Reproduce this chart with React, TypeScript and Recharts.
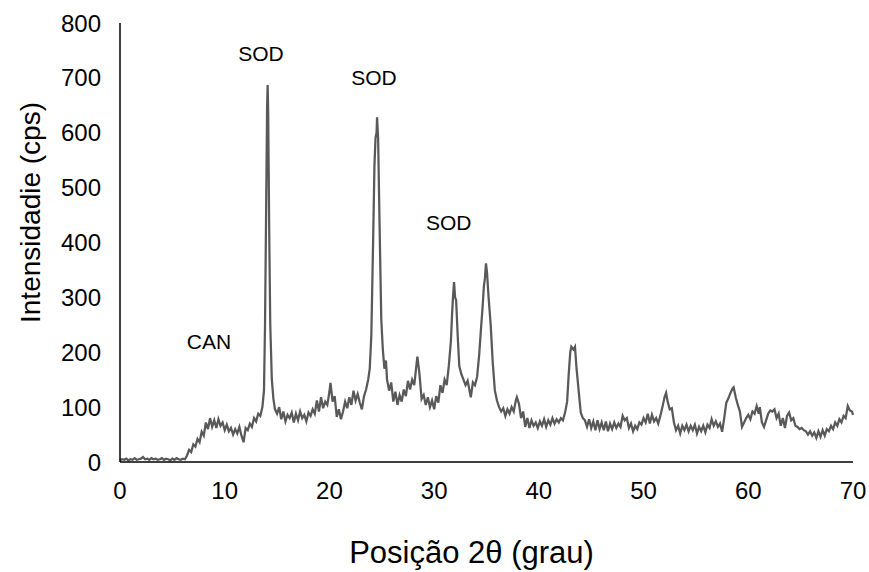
import React from 'react';
import { LineChart, Line, XAxis, YAxis, ReferenceDot, Label } from 'recharts';

// Diffraction pattern segments: [2θ (deg), intensity (cps)]
const baseline: [number, number][] = [
  [0, 3], [0.2, 5], [0.4, 4], [0.6, 6], [0.8, 3], [1.0, 5], [1.2, 4], [1.4, 7], [1.6, 4], [1.8, 5],
  [2.0, 6], [2.2, 9], [2.4, 5], [2.6, 6], [2.8, 4], [3.0, 7], [3.2, 5], [3.4, 6], [3.6, 4], [3.8, 5],
  [4.0, 7], [4.2, 4], [4.4, 6], [4.6, 5], [4.8, 3], [5.0, 6], [5.2, 4], [5.4, 7], [5.6, 5], [5.8, 4],
  [6.0, 6], [6.2, 5],
];

const canRegion: [number, number][] = [
  [6.4, 12], [6.6, 22], [6.8, 18], [7.0, 32], [7.2, 28], [7.4, 42], [7.6, 36], [7.8, 55], [8.0, 48],
  [8.2, 72], [8.4, 60], [8.6, 80], [8.8, 64], [9.0, 76], [9.2, 62], [9.4, 78], [9.6, 66], [9.8, 72],
  [10.0, 58], [10.2, 68], [10.4, 56], [10.6, 62], [10.8, 50], [11.0, 60], [11.2, 52], [11.4, 64],
  [11.6, 48], [11.8, 36], [12.0, 62], [12.2, 58], [12.4, 70], [12.6, 64], [12.8, 80], [13.0, 74],
  [13.2, 88], [13.4, 84], [13.6, 100],
];

const sodPeak1: [number, number][] = [
  [13.75, 130], [13.85, 250], [13.95, 450], [14.05, 650], [14.1, 687], [14.15, 640], [14.25, 420],
  [14.35, 250], [14.5, 150], [14.65, 115], [14.8, 96],
];

const midRegion: [number, number][] = [
  [15.0, 88], [15.2, 100], [15.4, 78], [15.6, 92], [15.8, 74], [16.0, 86], [16.2, 80], [16.4, 90],
  [16.6, 72], [16.8, 88], [17.0, 76], [17.2, 92], [17.4, 80], [17.6, 86], [17.8, 74], [18.0, 90],
  [18.2, 84], [18.4, 96], [18.6, 88], [18.8, 112], [19.0, 92], [19.2, 118], [19.4, 98], [19.6, 110],
  [19.8, 104], [20.0, 128], [20.1, 144], [20.3, 110], [20.5, 120], [20.7, 82], [20.9, 96], [21.1, 78],
  [21.3, 92], [21.5, 110], [21.7, 98], [21.9, 118], [22.1, 104], [22.3, 130], [22.5, 112], [22.7, 124],
  [22.9, 108], [23.1, 96], [23.3, 120], [23.5, 132], [23.7, 150], [23.85, 170],
];

const sodPeak2: [number, number][] = [
  [24.0, 230], [24.15, 380], [24.3, 540], [24.4, 590], [24.5, 600], [24.55, 628], [24.65, 590],
  [24.8, 420], [24.95, 260], [25.1, 205], [25.25, 170], [25.4, 185], [25.5, 150],
];

const region26to31: [number, number][] = [
  [25.7, 130], [25.9, 145], [26.1, 110], [26.3, 128], [26.5, 104], [26.7, 122], [26.9, 110],
  [27.1, 132], [27.3, 120], [27.5, 148], [27.7, 132], [27.9, 150], [28.1, 140], [28.3, 175],
  [28.4, 192], [28.6, 160], [28.8, 115], [29.0, 122], [29.2, 104], [29.4, 118], [29.6, 100],
  [29.8, 112], [30.0, 96], [30.2, 120], [30.4, 108], [30.6, 140], [30.8, 126], [31.0, 150],
  [31.2, 140], [31.4, 175],
];

const sodPeak3: [number, number][] = [
  [31.6, 220], [31.7, 265], [31.8, 300], [31.9, 328], [32.0, 300], [32.1, 295], [32.25, 230],
  [32.4, 175], [32.6, 160], [32.8, 150], [33.0, 140], [33.2, 148], [33.4, 128], [33.5, 118],
  [33.7, 145], [33.9, 140], [34.1, 155], [34.3, 195], [34.5, 250], [34.6, 275], [34.75, 320],
  [34.85, 335], [34.95, 362], [35.05, 345], [35.2, 300], [35.4, 250], [35.6, 180], [35.8, 130],
];

const region36to45: [number, number][] = [
  [36.0, 112], [36.2, 100], [36.4, 92], [36.6, 98], [36.8, 84], [37.0, 96], [37.2, 88], [37.4, 100],
  [37.6, 92], [37.8, 112], [37.9, 118], [38.1, 106], [38.3, 80], [38.5, 92], [38.7, 64], [38.9, 80],
  [39.1, 62], [39.3, 76], [39.5, 66], [39.7, 72], [39.9, 62], [40.1, 74], [40.3, 66], [40.5, 78],
  [40.7, 64], [40.9, 76], [41.1, 68], [41.3, 80], [41.5, 70], [41.7, 78], [41.9, 72], [42.1, 80],
  [42.3, 76], [42.5, 90], [42.7, 110], [42.85, 160], [43.0, 200], [43.1, 210], [43.3, 205],
  [43.45, 210], [43.6, 170], [43.8, 130], [44.0, 90], [44.2, 80], [44.4, 76], [44.6, 64], [44.8, 78],
];

const region45to58: [number, number][] = [
  [45.0, 62], [45.2, 74], [45.4, 58], [45.6, 76], [45.8, 60], [46.0, 72], [46.2, 58], [46.4, 74],
  [46.6, 56], [46.8, 70], [47.0, 60], [47.2, 72], [47.4, 62], [47.6, 70], [47.8, 64], [48.0, 84],
  [48.2, 76], [48.4, 80], [48.6, 62], [48.8, 70], [49.0, 56], [49.2, 66], [49.4, 60], [49.6, 72],
  [49.8, 68], [50.0, 80], [50.2, 72], [50.4, 88], [50.6, 70], [50.8, 86], [51.0, 74], [51.2, 80],
  [51.4, 70], [51.6, 84], [51.8, 100], [52.0, 118], [52.15, 126], [52.3, 110], [52.5, 96],
  [52.7, 98], [52.9, 72], [53.1, 58], [53.3, 66], [53.5, 52], [53.7, 66], [53.9, 58], [54.1, 68],
  [54.3, 56], [54.5, 66], [54.7, 58], [54.9, 68], [55.1, 52], [55.3, 64], [55.5, 56], [55.7, 66],
  [55.9, 54], [56.1, 68], [56.3, 62], [56.5, 78], [56.7, 66], [56.9, 74], [57.1, 64], [57.3, 70],
  [57.5, 55], [57.7, 80],
];

const region58to70: [number, number][] = [
  [57.9, 108], [58.1, 116], [58.3, 126], [58.5, 134], [58.6, 136], [58.8, 118], [59.0, 104],
  [59.2, 92], [59.4, 64], [59.6, 72], [59.8, 80], [60.0, 86], [60.2, 78], [60.4, 92], [60.6, 88],
  [60.8, 102], [61.0, 88], [61.1, 100], [61.3, 72], [61.5, 64], [61.7, 76], [61.9, 88], [62.1, 94],
  [62.3, 92], [62.5, 96], [62.7, 80], [62.9, 88], [63.1, 66], [63.3, 80], [63.5, 62], [63.7, 84],
  [63.9, 90], [64.1, 76], [64.3, 80], [64.5, 66], [64.7, 64], [64.9, 60], [65.1, 62], [65.3, 58],
  [65.5, 56], [65.7, 50], [65.9, 56], [66.1, 48], [66.3, 54], [66.5, 44], [66.7, 56], [66.9, 46],
  [67.1, 58], [67.3, 48], [67.5, 60], [67.7, 56], [67.9, 66], [68.1, 60], [68.3, 72], [68.5, 66],
  [68.7, 78], [68.9, 72], [69.1, 84], [69.3, 80], [69.5, 102], [69.7, 94], [69.9, 92], [70.0, 86],
];

const xTicks = [0, 10, 20, 30, 40, 50, 60, 70];
const yTicks = [0, 100, 200, 300, 400, 500, 600, 700, 800];

const annotations = [
  { text: 'CAN', x: 8.5, y: 220 },
  { text: 'SOD', x: 13.47, y: 745 },
  { text: 'SOD', x: 24.26, y: 700 },
  { text: 'SOD', x: 31.4, y: 437 },
];

const data = [
  ...baseline, ...canRegion, ...sodPeak1, ...midRegion, ...sodPeak2,
  ...region26to31, ...sodPeak3, ...region36to45, ...region45to58, ...region58to70,
].map(([angle, intensity]) => ({ angle, intensity }));

const FONT = '"Liberation Sans", Arial, sans-serif';

const YTitle = (props: any) => {
  const vb = props.viewBox || {};
  const cx = 30;
  const cy = vb.y + vb.height / 2 - 30;
  return (
    <text
      x={cx}
      y={cy}
      transform={`rotate(-90, ${cx}, ${cy})`}
      textAnchor="middle"
      dominantBaseline="central"
      fontFamily={FONT}
      fontSize={28}
      fill="#000"
    >
      Intensidadie (cps)
    </text>
  );
};

const XTitle = (props: any) => {
  const vb = props.viewBox || {};
  const cx = vb.x + vb.width / 2 - 15;
  const cy = 552;
  return (
    <text x={cx} y={cy} textAnchor="middle" dominantBaseline="central" fontFamily={FONT} fontSize={31} fill="#000">
      Posição 2θ (grau)
    </text>
  );
};

export default function App() {
  return (
    <div style={{ position: 'absolute', top: 0, left: 0, width: 869, height: 572, background: '#fff' }}>
      <LineChart
        width={869}
        height={572}
        data={data}
        margin={{ top: 23, right: 16, bottom: 60, left: 0 }}
      >
        <XAxis
          dataKey="angle"
          type="number"
          domain={[0, 70]}
          ticks={xTicks}
          interval={0}
          height={50}
          tickLine={false}
          tickSize={0}
          tickMargin={20}
          axisLine={{ stroke: '#000', strokeWidth: 1.5 }}
          tick={{ fontFamily: FONT, fontSize: 24, fill: '#000' }}
        >
          <Label content={XTitle} />
        </XAxis>
        <YAxis
          type="number"
          domain={[0, 800]}
          ticks={yTicks}
          interval={0}
          width={120}
          tickLine={false}
          tickSize={0}
          tickMargin={19}
          axisLine={{ stroke: '#000', strokeWidth: 1.5 }}
          tick={{ fontFamily: FONT, fontSize: 24, fill: '#000' }}
        >
          <Label content={YTitle} />
        </YAxis>
        <Line
          dataKey="intensity"
          type="linear"
          stroke="#595959"
          strokeWidth={2.25}
          dot={false}
          activeDot={false}
          isAnimationActive={false}
        />
        {annotations.map((a, i) => (
          <ReferenceDot
            key={i}
            x={a.x}
            y={a.y}
            r={0}
            fill="none"
            stroke="none"
            ifOverflow="visible"
            label={{ value: a.text, position: 'center', fontFamily: FONT, fontSize: 21, fill: '#000' }}
          />
        ))}
      </LineChart>
    </div>
  );
}
